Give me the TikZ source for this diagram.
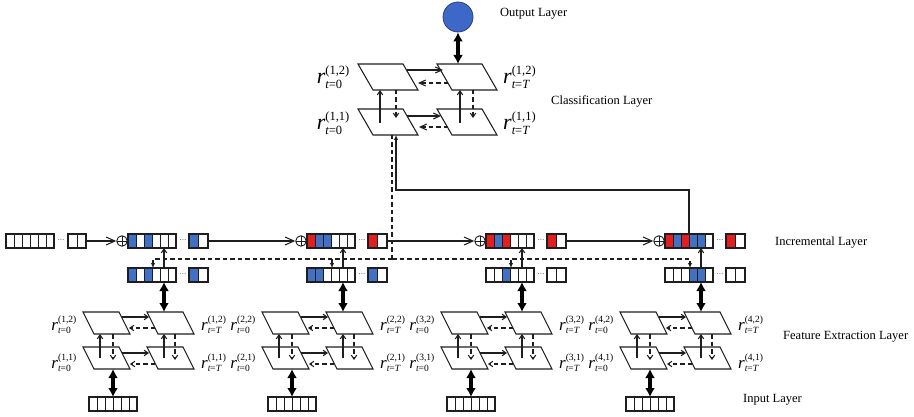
\documentclass[tikz,border=0pt]{standalone}
\usepackage{amsmath}
\usepackage{fontspec}
\setmainfont{Liberation Serif}
\usetikzlibrary{arrows.meta,calc}
\DeclareMathSizes{17}{17}{9.5}{7}
\DeclareMathSizes{22}{22}{12.5}{9}

\definecolor{ink}{RGB}{30,30,30}
\definecolor{cellblue}{RGB}{66,112,196}
\definecolor{cellred}{RGB}{226,30,30}
\definecolor{outfill}{RGB}{62,104,200}
\definecolor{outedge}{RGB}{40,64,140}

\newcommand{\subz}{\textit{t}\textrm{=0}}
\newcommand{\subT}{\textit{t}\textrm{=}\textit{T}}
\newcommand{\rlab}[2]{$\textit{r}^{\textrm{(#1)}}_{#2}$}

% a row of cells: name, left x, top y, number of cells, cell width, fill colours
\newcommand{\cellrow}[6]{%
  \foreach \c [count=\i] in {#6}
    \draw[cellline, fill=\c] ({#2+(\i-1)*#5},{#3}) rectangle ++(#5,14);
  \node[rowbox, minimum width={#4*#5}, anchor=north west] (#1) at ({#2},{#3}) {};
}

% a slanted state plane: name, centre x, centre y, side length, total width, height
\newcommand{\plane}[6]{%
  \node[planebox, minimum width={#5}, minimum height={#6}] (#1) at ({#2},{#3}) {};
  \draw[planeline] (#1.north west) -- ++(#4,0) -- (#1.south east) -- ++(-#4,0) -- cycle;
}

\begin{document}
\begin{tikzpicture}[x=1pt,y=-1pt,
  conn/.style={draw=ink, line width=1.05pt},
  dconn/.style={conn, dash pattern=on 4.5pt off 3pt},
  barb/.style={-{Straight Barb[length=4pt,width=5.5pt]}},
  hbarb/.style={-{Straight Barb[length=6.5pt,width=6pt]}},
  bigbarb/.style={-{Straight Barb[length=9pt,width=8pt]}},
  tri/.style={-{Latex[length=5pt,width=4.5pt]}},
  bigarrow/.style={draw=black, line width=3.2pt,
    {Latex[length=9pt,width=10pt]}-{Latex[length=9pt,width=10pt]}},
  planebox/.style={draw=none, inner sep=0pt, outer sep=0pt},
  planeline/.style={draw=ink, line width=1.05pt, line join=miter},
  cellline/.style={draw=ink, line width=0.9pt},
  rowbox/.style={draw=ink, line width=1.2pt, inner sep=0pt, outer sep=0pt, minimum height=14pt},
  oplus/.style={circle, draw=ink, line width=0.9pt, minimum size=10.5pt, inner sep=0pt,
    path picture={\draw[ink, line width=0.8pt]
      (path picture bounding box.north) -- (path picture bounding box.south)
      (path picture bounding box.west) -- (path picture bounding box.east);}},
  dots/.style={inner sep=0pt, font=\fontsize{7}{7}\selectfont},
  layername/.style={anchor=west, inner sep=0pt, font=\fontsize{12.5}{15}\selectfont},
  cllab/.style={inner sep=0pt, font=\fontsize{22}{24}\selectfont},
  felab/.style={inner sep=0pt, font=\fontsize{17}{19}\selectfont},
  outnode/.style={circle, fill=outfill, draw=outedge, line width=0.8pt, minimum size=30pt, inner sep=0pt},
]
\useasboundingbox (0,0) rectangle (914,417);

% ---------- output ----------
\node[outnode] (out) at (458,17) {};
\node[layername] (tOut) at (500,14) {Output Layer};

% ---------- classification layer ----------
\plane{c12}{388}{77}{45}{60}{26}
\plane{c12T}{467}{77}{45}{60}{26}
\plane{c11}{388}{122}{45}{60}{26}
\plane{c11T}{467}{122}{45}{60}{26}

\node[cllab, anchor=east] (lc12)  at (350,77)  {\rlab{1,2}{\subz}};
\node[cllab, anchor=east] (lc11)  at (350,123) {\rlab{1,1}{\subz}};
\node[cllab, anchor=west] (lc12T) at (503,77)  {\rlab{1,2}{\subT}};
\node[cllab, anchor=west] (lc11T) at (503,123) {\rlab{1,1}{\subT}};
\node[layername] (tCl) at (551,101) {Classification Layer};

\draw[bigarrow] (out.south) -- ($(c12T.center)+(-9,-13)$);

\draw[conn, barb]  ($(c11.center)+(-8,1)$)  -- ($(c12.center)+(-8,13)$);
\draw[dconn, barb] ($(c12.center)+(8,13)$)  -- ($(c11.center)+(8,-4)$);
\draw[conn, barb]  ($(c11T.center)+(-7,1)$) -- ($(c12T.center)+(-7,13)$);
\draw[dconn, barb] ($(c12T.center)+(6,13)$) -- ($(c11T.center)+(6,-4)$);

\draw[conn, hbarb]  ($(c12.center)+(19,-7)$)  -- ($(c12T.center)+(-24,-7)$);
\draw[dconn, hbarb] ($(c12T.center)+(-19,6)$) -- ($(c12.center)+(30,6)$);
\draw[conn, hbarb]  ($(c11.center)+(19,-6)$)  -- ($(c11T.center)+(-26,-6)$);
\draw[dconn, hbarb] ($(c11T.center)+(-19,5)$) -- ($(c11.center)+(31,5)$);

% ---------- incremental layer ----------
\cellrow{L1}{6}{234}{6}{8}{white,white,white,white,white,white}
\node[dots] (Ld) at (61,241) {···};
\cellrow{L2}{68}{234}{2}{9}{white,white}

% group 1
\node[oplus] (op1) at (122,241) {};
\cellrow{up1}{128}{234}{6}{8}{cellblue,white,cellblue,white,white,white}
\node[dots] (ud1) at (183,241) {···};
\cellrow{us1}{189}{234}{2}{9.5}{cellblue,white}
\cellrow{lo1}{128}{268}{6}{8}{cellblue,white,cellblue,white,white,white}
\node[dots] (ld1) at (183,275) {···};
\cellrow{ls1}{189}{268}{2}{9.5}{cellblue,white}

% group 2
\node[oplus] (op2) at (301,241) {};
\cellrow{up2}{307}{234}{6}{8}{cellred,cellblue,cellblue,white,white,white}
\node[dots] (ud2) at (362,241) {···};
\cellrow{us2}{368}{234}{2}{9.5}{cellred,white}
\cellrow{lo2}{307}{268}{6}{8}{cellblue,cellblue,white,white,white,white}
\node[dots] (ld2) at (362,275) {···};
\cellrow{ls2}{368}{268}{2}{9.5}{cellblue,white}

% group 3
\node[oplus] (op3) at (480,241) {};
\cellrow{up3}{486}{234}{6}{8}{cellred,cellblue,cellred,white,white,white}
\node[dots] (ud3) at (541,241) {···};
\cellrow{us3}{547}{234}{2}{9.5}{cellred,white}
\cellrow{lo3}{486}{268}{6}{8}{white,white,cellblue,white,white,white}
\node[dots] (ld3) at (541,275) {···};
\cellrow{ls3}{547}{268}{2}{9.5}{white,white}

% group 4
\node[oplus] (op4) at (659,241) {};
\cellrow{up4}{665}{234}{6}{8}{cellred,cellblue,cellred,cellblue,cellblue,white}
\node[dots] (ud4) at (720,241) {···};
\cellrow{us4}{726}{234}{2}{9.5}{cellred,white}
\cellrow{lo4}{665}{268}{6}{8}{white,white,white,cellblue,cellblue,white}
\node[dots] (ld4) at (720,275) {···};
\cellrow{ls4}{726}{268}{2}{9.5}{white,white}

\node[layername] (tInc) at (775,243) {Incremental Layer};

\draw[conn, bigbarb] (L2.east)  -- (op1.west);
\draw[conn, bigbarb] (us1.east) -- (op2.west);
\draw[conn, bigbarb] (us2.east) -- (op3.west);
\draw[conn, bigbarb] (us3.east) -- (op4.west);

\foreach \k in {1,...,4}
  \draw[conn, barb] ($(lo\k.north west)+(36,0)$) -- ($(up\k.south west)+(36,0)$);

% feedback from the classification layer
\coordinate (dj) at (392,259);
\draw[dconn] ($(c11.center)+(4,13)$) -- (dj);
\foreach \k in {1,...,4}
  \draw[dconn, tri] (dj) -| ($(lo\k.north west)+(25,0)$);

% last incremental state to the classification layer
\draw[conn, tri] ($(up4.north west)+(24,0)$) -- ++(0,-44) -| ($(c11.center)+(8,13)$);

% ---------- feature extraction and input layers ----------
\foreach \k/\X in {1/0,2/179,3/358,4/537}{
  \plane{fa\k}{106.5+\X}{323}{36}{47}{22}
  \plane{fb\k}{170.5+\X}{323}{36}{47}{22}
  \plane{fc\k}{106.5+\X}{358}{36}{47}{22}
  \plane{fd\k}{170.5+\X}{358}{36}{47}{22}

  \node[felab, anchor=east] (la\k) at ({77+\X},325)  {\rlab{\k,2}{\subz}};
  \node[felab, anchor=east] (lc\k) at ({77+\X},363)  {\rlab{\k,1}{\subz}};
  \node[felab, anchor=west] (lb\k) at ({201+\X},325) {\rlab{\k,2}{\subT}};
  \node[felab, anchor=west] (ld\k) at ({201+\X},363) {\rlab{\k,1}{\subT}};

  \draw[conn, barb]  ($(fc\k.center)+(-6.5,0)$) -- ($(fa\k.center)+(-6.5,11)$);
  \draw[dconn, barb] ($(fa\k.center)+(6.5,11)$) -- ($(fc\k.center)+(6.5,2)$);
  \draw[conn, barb]  ($(fd\k.center)+(-6.5,0)$) -- ($(fb\k.center)+(-6.5,11)$);
  \draw[dconn, barb] ($(fb\k.center)+(4.5,11)$) -- ($(fd\k.center)+(4.5,2)$);

  \draw[conn, barb]  ($(fa\k.center)+(15.5,-6)$)  -- ($(fb\k.center)+(-21.5,-6)$);
  \draw[dconn, barb] ($(fb\k.center)+(-15.5,5)$)  -- ($(fa\k.center)+(22.5,5)$);
  \draw[conn, barb]  ($(fc\k.center)+(15.5,-5)$)  -- ($(fd\k.center)+(-21.5,-5)$);
  \draw[dconn, barb] ($(fd\k.center)+(-15.5,6)$)  -- ($(fc\k.center)+(23.5,6)$);

  \cellrow{in\k}{89+\X}{397}{6}{8}{white,white,white,white,white,white}

  \draw[bigarrow] ($(lo\k.south west)+(36,0)$) -- ($(fb\k.center)+(-6.5,-11)$);
  \draw[bigarrow] ($(fc\k.center)+(6.5,11)$) -- (in\k.north);
}

\node[layername] (tFe) at (783,337) {Feature Extraction Layer};
\node[layername] (tIn) at (743,400) {Input Layer};
\end{tikzpicture}
\end{document}
